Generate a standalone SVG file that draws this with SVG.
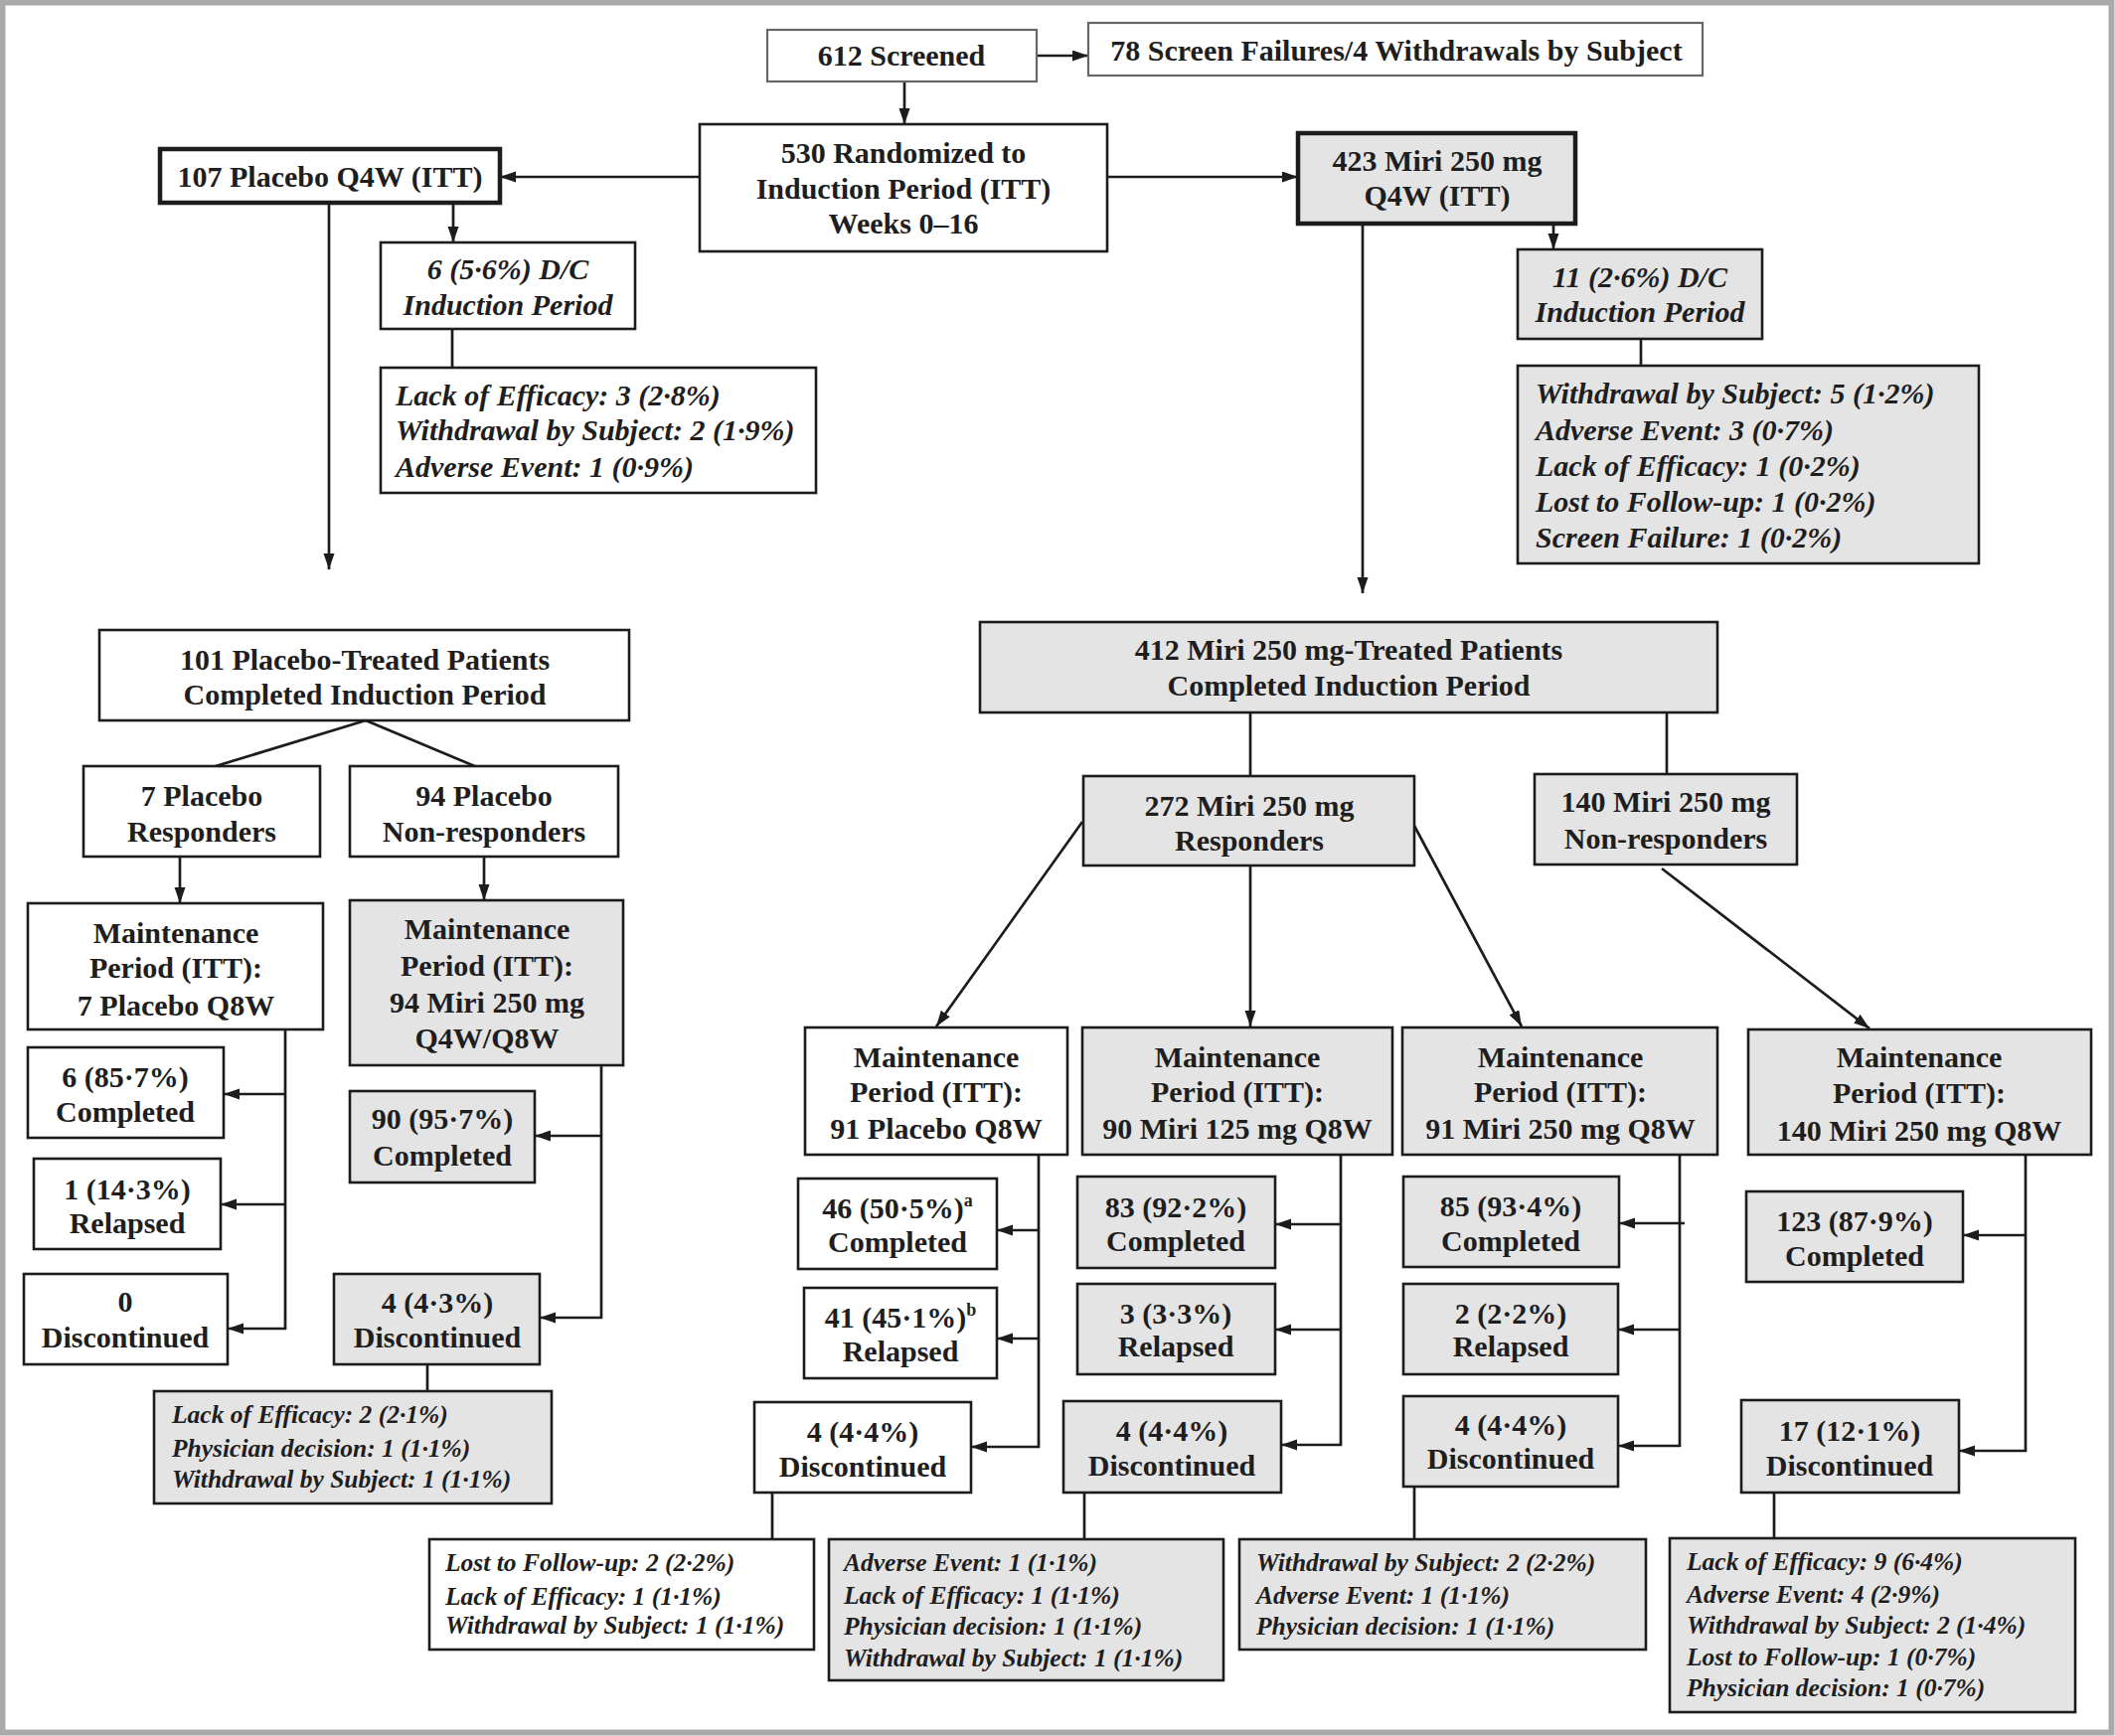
<svg xmlns="http://www.w3.org/2000/svg" width="2128" height="1747" viewBox="0 0 2128 1747">
<style>
.w{fill:#fff;stroke:#1c1c1c;stroke-width:2.6}
.g{fill:#e4e4e4;stroke:#1c1c1c;stroke-width:2.6}
.k{stroke-width:4.5}
.lt{stroke:#666;stroke-width:2.2}
.t{font-family:"Liberation Serif","Times New Roman",serif;font-weight:bold;font-size:30px;fill:#1e1e1e;text-anchor:middle}
.i{font-style:italic}
.l{text-anchor:start;font-style:italic}
.s{font-size:25.5px}
.sup{font-size:18px}
.c line,.c path{stroke:#1c1c1c;stroke-width:2.7;fill:none}
</style>
<defs>
<marker id="a" markerUnits="userSpaceOnUse" markerWidth="18" markerHeight="12" refX="16" refY="5.5" orient="auto">
<path d="M0,0 L16,5.5 L0,11 z" fill="#1c1c1c"/>
</marker>
</defs>
<rect x="0" y="0" width="2128" height="1747" fill="#fff"/>
<rect x="2.5" y="2.5" width="2122" height="1741" fill="none" stroke="#a9aba9" stroke-width="6"/>

<g class="c">
<line x1="1043" y1="56" x2="1095" y2="56" marker-end="url(#a)"/>
<line x1="910" y1="82" x2="910" y2="125" marker-end="url(#a)"/>
<line x1="704" y1="178" x2="503" y2="178" marker-end="url(#a)"/>
<line x1="1114" y1="178" x2="1306" y2="178" marker-end="url(#a)"/>
<line x1="456" y1="204" x2="456" y2="244" marker-end="url(#a)"/>
<line x1="455" y1="331" x2="455" y2="370"/>
<line x1="331" y1="204" x2="331" y2="573" marker-end="url(#a)"/>
<line x1="1563" y1="225" x2="1563" y2="251" marker-end="url(#a)"/>
<line x1="1651" y1="341" x2="1651" y2="368"/>
<line x1="1371" y1="225" x2="1371" y2="597" marker-end="url(#a)"/>
<line x1="368" y1="725" x2="217" y2="771"/>
<line x1="368" y1="725" x2="480" y2="772"/>
<line x1="181" y1="862" x2="181" y2="909" marker-end="url(#a)"/>
<line x1="487" y1="862" x2="487" y2="906" marker-end="url(#a)"/>
<line x1="287" y1="1036" x2="287" y2="1338"/>
<line x1="287" y1="1101" x2="225" y2="1101" marker-end="url(#a)"/>
<line x1="287" y1="1212" x2="222" y2="1212" marker-end="url(#a)"/>
<line x1="288" y1="1337" x2="229" y2="1337" marker-end="url(#a)"/>
<line x1="605" y1="1072" x2="605" y2="1327"/>
<line x1="606" y1="1143" x2="538" y2="1143" marker-end="url(#a)"/>
<line x1="606" y1="1326" x2="543" y2="1326" marker-end="url(#a)"/>
<line x1="430" y1="1373" x2="430" y2="1400"/>
<line x1="1258" y1="717" x2="1258" y2="781"/>
<line x1="1677" y1="717" x2="1677" y2="779"/>
<line x1="1089" y1="827" x2="942" y2="1033" marker-end="url(#a)"/>
<line x1="1258" y1="871" x2="1258" y2="1033" marker-end="url(#a)"/>
<line x1="1423" y1="831" x2="1531" y2="1033" marker-end="url(#a)"/>
<line x1="1672" y1="874" x2="1881" y2="1035" marker-end="url(#a)"/>
<line x1="1045" y1="1162" x2="1045" y2="1457"/>
<line x1="1046" y1="1238" x2="1003" y2="1238" marker-end="url(#a)"/>
<line x1="1046" y1="1347" x2="1003" y2="1347" marker-end="url(#a)"/>
<line x1="1046" y1="1456" x2="977" y2="1456" marker-end="url(#a)"/>
<line x1="1349" y1="1162" x2="1349" y2="1455"/>
<line x1="1350" y1="1232" x2="1283" y2="1232" marker-end="url(#a)"/>
<line x1="1350" y1="1338" x2="1283" y2="1338" marker-end="url(#a)"/>
<line x1="1350" y1="1454" x2="1289" y2="1454" marker-end="url(#a)"/>
<line x1="1690" y1="1162" x2="1690" y2="1456"/>
<line x1="1695" y1="1231" x2="1629" y2="1231" marker-end="url(#a)"/>
<line x1="1691" y1="1338" x2="1628" y2="1338" marker-end="url(#a)"/>
<line x1="1691" y1="1455" x2="1628" y2="1455" marker-end="url(#a)"/>
<line x1="2038" y1="1162" x2="2038" y2="1461"/>
<line x1="2039" y1="1243" x2="1975" y2="1243" marker-end="url(#a)"/>
<line x1="2039" y1="1460" x2="1971" y2="1460" marker-end="url(#a)"/>
<line x1="777" y1="1502" x2="777" y2="1549"/>
<line x1="1091" y1="1502" x2="1091" y2="1549"/>
<line x1="1423" y1="1496" x2="1423" y2="1549"/>
<line x1="1785" y1="1502" x2="1785" y2="1548"/>
</g>

<g id="screened"><rect class="w lt" x="772" y="30" width="271" height="52"/><text class="t" x="907" y="66">612 Screened</text></g>
<g id="screenfail"><rect class="w lt" x="1095" y="23" width="618" height="53"/><text class="t" x="1405" y="61">78 Screen Failures/4 Withdrawals by Subject</text></g>
<g id="randomized"><rect class="w" x="704" y="125" width="410" height="128"/><text class="t" x="909" y="164">530 Randomized to</text><text class="t" x="909" y="200">Induction Period (ITT)</text><text class="t" x="909" y="235">Weeks 0–16</text></g>
<g id="placebo107"><rect class="w k" x="161" y="150" width="342" height="54"/><text class="t" x="332" y="188">107 Placebo Q4W (ITT)</text></g>
<g id="miri423"><rect class="g k" x="1306" y="134" width="279" height="91"/><text class="t" x="1446" y="172">423 Miri 250 mg</text><text class="t" x="1446" y="207">Q4W (ITT)</text></g>
<g id="dc6"><rect class="w" x="383" y="244" width="256" height="87"/><text class="t i" x="511" y="281">6 (5·6%) D/C</text><text class="t i" x="511" y="317">Induction Period</text></g>
<g id="dc11"><rect class="g" x="1527" y="251" width="246" height="90"/><text class="t i" x="1650" y="289">11 (2·6%) D/C</text><text class="t i" x="1650" y="324">Induction Period</text></g>
<g id="reasons-pbo-ind"><rect class="w" x="383" y="370" width="438" height="126"/><text class="t l" x="398" y="408">Lack of Efficacy: 3 (2·8%)</text><text class="t l" x="398" y="443">Withdrawal by Subject: 2 (1·9%)</text><text class="t l" x="398" y="480">Adverse Event: 1 (0·9%)</text></g>
<g id="reasons-miri-ind"><rect class="g" x="1527" y="368" width="464" height="199"/><text class="t l" x="1545" y="406">Withdrawal by Subject: 5 (1·2%)</text><text class="t l" x="1545" y="443">Adverse Event: 3 (0·7%)</text><text class="t l" x="1545" y="479">Lack of Efficacy: 1 (0·2%)</text><text class="t l" x="1545" y="515">Lost to Follow-up: 1 (0·2%)</text><text class="t l" x="1545" y="551">Screen  Failure: 1 (0·2%)</text></g>
<g id="pbo101"><rect class="w" x="100" y="634" width="533" height="91"/><text class="t" x="367" y="674">101 Placebo-Treated Patients</text><text class="t" x="367" y="709">Completed Induction Period</text></g>
<g id="miri412"><rect class="g" x="986" y="626" width="742" height="91"/><text class="t" x="1357" y="664">412 Miri 250 mg-Treated Patients</text><text class="t" x="1357" y="700">Completed Induction Period</text></g>
<g id="pbo-resp"><rect class="w" x="84" y="771" width="238" height="91"/><text class="t" x="203" y="811">7 Placebo</text><text class="t" x="203" y="847">Responders</text></g>
<g id="pbo-nonresp"><rect class="w" x="352" y="771" width="270" height="91"/><text class="t" x="487" y="811">94 Placebo</text><text class="t" x="487" y="847">Non-responders</text></g>
<g id="miri-resp"><rect class="g" x="1090" y="781" width="333" height="90"/><text class="t" x="1257" y="821">272 Miri 250 mg</text><text class="t" x="1257" y="856">Responders</text></g>
<g id="miri-nonresp"><rect class="g" x="1544" y="779" width="264" height="91"/><text class="t" x="1676" y="817">140 Miri 250 mg</text><text class="t" x="1676" y="854">Non-responders</text></g>
<g id="maint-pbo7"><rect class="w" x="28" y="909" width="297" height="127"/><text class="t" x="177" y="949">Maintenance</text><text class="t" x="177" y="984">Period (ITT):</text><text class="t" x="177" y="1022">7 Placebo Q8W</text></g>
<g id="maint-miri94"><rect class="g" x="352" y="906" width="275" height="166"/><text class="t" x="490" y="945">Maintenance</text><text class="t" x="490" y="982">Period (ITT):</text><text class="t" x="490" y="1019">94 Miri 250 mg</text><text class="t" x="490" y="1055">Q4W/Q8W</text></g>
<g id="maint-pbo91"><rect class="w" x="810" y="1034" width="264" height="128"/><text class="t" x="942" y="1074">Maintenance</text><text class="t" x="942" y="1109">Period (ITT):</text><text class="t" x="942" y="1146">91 Placebo Q8W</text></g>
<g id="maint-miri125"><rect class="g" x="1089" y="1034" width="312" height="128"/><text class="t" x="1245" y="1074">Maintenance</text><text class="t" x="1245" y="1109">Period (ITT):</text><text class="t" x="1245" y="1146">90 Miri 125 mg Q8W</text></g>
<g id="maint-miri250"><rect class="g" x="1411" y="1034" width="317" height="128"/><text class="t" x="1570" y="1074">Maintenance</text><text class="t" x="1570" y="1109">Period (ITT):</text><text class="t" x="1570" y="1146">91 Miri 250 mg Q8W</text></g>
<g id="maint-miri140"><rect class="g" x="1759" y="1036" width="345" height="126"/><text class="t" x="1931" y="1074">Maintenance</text><text class="t" x="1931" y="1110">Period (ITT):</text><text class="t" x="1931" y="1148">140 Miri 250 mg Q8W</text></g>
<g id="pbo7-comp"><rect class="w" x="28" y="1054" width="197" height="91"/><text class="t" x="126" y="1094">6 (85·7%)</text><text class="t" x="126" y="1129">Completed</text></g>
<g id="pbo7-rel"><rect class="w" x="34" y="1166" width="188" height="91"/><text class="t" x="128" y="1207">1 (14·3%)</text><text class="t" x="128" y="1241">Relapsed</text></g>
<g id="pbo7-dc"><rect class="w" x="24" y="1282" width="205" height="91"/><text class="t" x="126" y="1320">0</text><text class="t" x="126" y="1356">Discontinued</text></g>
<g id="miri94-comp"><rect class="g" x="352" y="1098" width="186" height="92"/><text class="t" x="445" y="1136">90 (95·7%)</text><text class="t" x="445" y="1173">Completed</text></g>
<g id="miri94-dc"><rect class="g" x="336" y="1282" width="207" height="91"/><text class="t" x="440" y="1321">4 (4·3%)</text><text class="t" x="440" y="1356">Discontinued</text></g>
<g id="miri94-reasons"><rect class="g" x="155" y="1400" width="400" height="113"/><text class="t l s" x="173" y="1432">Lack of Efficacy: 2 (2·1%)</text><text class="t l s" x="173" y="1466">Physician decision: 1 (1·1%)</text><text class="t l s" x="173" y="1497">Withdrawal by Subject: 1 (1·1%)</text></g>
<g id="pbo91-comp"><rect class="w" x="803" y="1186" width="200" height="91"/><text class="t" x="903" y="1226">46 (50·5%)<tspan class="sup" dy="-12">a</tspan></text><text class="t" x="903" y="1260">Completed</text></g>
<g id="pbo91-rel"><rect class="w" x="809" y="1296" width="194" height="91"/><text class="t" x="906" y="1336">41 (45·1%)<tspan class="sup" dy="-12">b</tspan></text><text class="t" x="906" y="1370">Relapsed</text></g>
<g id="pbo91-dc"><rect class="w" x="759" y="1411" width="218" height="91"/><text class="t" x="868" y="1451">4 (4·4%)</text><text class="t" x="868" y="1486">Discontinued</text></g>
<g id="m125-comp"><rect class="g" x="1084" y="1184" width="199" height="92"/><text class="t" x="1183" y="1225">83 (92·2%)</text><text class="t" x="1183" y="1259">Completed</text></g>
<g id="m125-rel"><rect class="g" x="1084" y="1292" width="199" height="91"/><text class="t" x="1183" y="1332">3 (3·3%)</text><text class="t" x="1183" y="1365">Relapsed</text></g>
<g id="m125-dc"><rect class="g" x="1070" y="1410" width="219" height="92"/><text class="t" x="1179" y="1450">4 (4·4%)</text><text class="t" x="1179" y="1485">Discontinued</text></g>
<g id="m250-comp"><rect class="g" x="1412" y="1184" width="217" height="91"/><text class="t" x="1520" y="1224">85 (93·4%)</text><text class="t" x="1520" y="1259">Completed</text></g>
<g id="m250-rel"><rect class="g" x="1412" y="1292" width="216" height="91"/><text class="t" x="1520" y="1332">2 (2·2%)</text><text class="t" x="1520" y="1365">Relapsed</text></g>
<g id="m250-dc"><rect class="g" x="1412" y="1405" width="216" height="91"/><text class="t" x="1520" y="1444">4 (4·4%)</text><text class="t" x="1520" y="1478">Discontinued</text></g>
<g id="m140-comp"><rect class="g" x="1757" y="1199" width="218" height="91"/><text class="t" x="1866" y="1239">123 (87·9%)</text><text class="t" x="1866" y="1274">Completed</text></g>
<g id="m140-dc"><rect class="g" x="1752" y="1409" width="219" height="93"/><text class="t" x="1861" y="1450">17 (12·1%)</text><text class="t" x="1861" y="1485">Discontinued</text></g>
<g id="pbo91-reasons"><rect class="w" x="432" y="1549" width="387" height="111"/><text class="t l s" x="448" y="1581">Lost to Follow-up: 2 (2·2%)</text><text class="t l s" x="448" y="1615">Lack of Efficacy: 1 (1·1%)</text><text class="t l s" x="448" y="1644">Withdrawal by Subject: 1 (1·1%)</text></g>
<g id="m125-reasons"><rect class="g" x="834" y="1549" width="397" height="142"/><text class="t l s" x="849" y="1581">Adverse Event: 1 (1·1%)</text><text class="t l s" x="849" y="1614">Lack of Efficacy: 1 (1·1%)</text><text class="t l s" x="849" y="1645">Physician decision: 1 (1·1%)</text><text class="t l s" x="849" y="1677">Withdrawal by Subject: 1 (1·1%)</text></g>
<g id="m250-reasons"><rect class="g" x="1247" y="1549" width="409" height="111"/><text class="t l s" x="1264" y="1581">Withdrawal by Subject: 2 (2·2%)</text><text class="t l s" x="1264" y="1614">Adverse Event: 1 (1·1%)</text><text class="t l s" x="1264" y="1645">Physician decision: 1 (1·1%)</text></g>
<g id="m140-reasons"><rect class="g" x="1680" y="1548" width="408" height="175"/><text class="t l s" x="1697" y="1580">Lack of Efficacy: 9 (6·4%)</text><text class="t l s" x="1697" y="1613">Adverse Event: 4 (2·9%)</text><text class="t l s" x="1697" y="1644">Withdrawal by Subject: 2 (1·4%)</text><text class="t l s" x="1697" y="1676">Lost to Follow-up: 1 (0·7%)</text><text class="t l s" x="1697" y="1707">Physician decision: 1 (0·7%)</text></g>
</svg>
